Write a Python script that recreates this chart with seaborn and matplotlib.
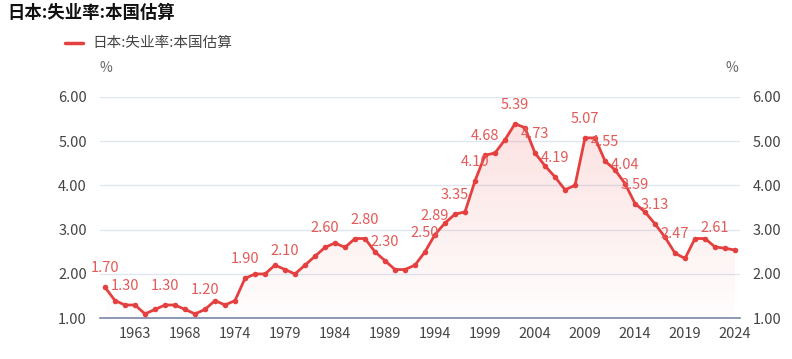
import numpy as np
import pandas as pd
import matplotlib
matplotlib.use("Agg")
import matplotlib.pyplot as plt
import seaborn as sns
from matplotlib.lines import Line2D
from matplotlib.colors import LinearSegmentedColormap

# ---------------- data ----------------
years = [str(y) for y in list(range(1960, 1971)) + list(range(1972, 2025))]
rates = [1.70, 1.40, 1.30, 1.30, 1.10, 1.20, 1.30, 1.30, 1.20, 1.10,
         1.20, 1.40, 1.30, 1.40, 1.90, 2.00, 2.00, 2.20, 2.10, 2.00,
         2.20, 2.40, 2.60, 2.70, 2.60, 2.80, 2.80, 2.50, 2.30, 2.10,
         2.10, 2.20, 2.50, 2.89, 3.15, 3.35, 3.40, 4.10, 4.68, 4.73,
         5.03, 5.39, 5.30, 4.73, 4.44, 4.19, 3.90, 4.00, 5.07, 5.07,
         4.55, 4.35, 4.04, 3.59, 3.40, 3.13, 2.83, 2.47, 2.35, 2.80,
         2.80, 2.61, 2.58, 2.54]
label_idx = [0, 2, 6, 10, 14, 18, 22, 26, 28, 32, 33, 35, 37, 38, 41, 43,
             45, 48, 50, 52, 53, 55, 57, 61]
tick_idx = list(range(3, 64, 5))
title = "日本:失业率:本国估算"
series_name = "日本:失业率:本国估算"
yticks = [1.0, 2.0, 3.0, 4.0, 5.0, 6.0]
unit = "%"

RED = "#e4403f"
LBL = "#e35a58"
TXT = "#444444"

sns.set_theme(style="white")
plt.rcParams['font.family'] = ['Noto Sans CJK SC', 'DejaVu Sans']

W, H = 792, 359
fig = plt.figure(figsize=(W / 100, H / 100), dpi=100)
fig.patch.set_facecolor("white")
ax = fig.add_axes([100 / W, 40.7 / H, 640 / W, 221.6 / H])

df = pd.DataFrame({"idx": np.arange(len(years)), "year": years, "rate": rates})

# gradient area
poly = ax.fill_between(df["idx"], df["rate"], 1.0, color="none", lw=0)
cmap = LinearSegmentedColormap.from_list(
    "g", [(0.93, 0.3, 0.3, 0.01), (0.93, 0.3, 0.3, 0.17)])
grad = np.linspace(0, 1, 256).reshape(-1, 1)
im = ax.imshow(grad, extent=[0, len(years) - 1, 1.0, max(rates)],
               aspect="auto", cmap=cmap, origin="lower", zorder=1,
               interpolation="bilinear")
im.set_clip_path(poly.get_paths()[0], transform=ax.transData)

sns.lineplot(data=df, x="idx", y="rate", ax=ax, color=RED, lw=2,
             marker="o", markersize=4, markeredgewidth=0, zorder=5,
             legend=False)

for i in label_idx:
    ax.annotate(f"{rates[i]:.2f}", (i, rates[i]), xytext=(0, 19),
                textcoords="offset pixels", ha="center", va="center",
                color=LBL, fontsize=10.5, zorder=6, annotation_clip=False)

ax.set_xlim(-0.5, len(years) - 0.5)
ax.set_ylim(1, 6)
ax.set_yticks(yticks)
ax.set_yticklabels([f"{v:.2f}" for v in yticks])
ax.set_xticks(tick_idx)
ax.set_xticklabels([years[i] for i in tick_idx])
ax.set_xlabel("")
ax.set_ylabel("")
ax.yaxis.grid(True, color="#E0E6F1", lw=1)
ax.xaxis.grid(False)
for s in ["left", "right", "top"]:
    ax.spines[s].set_visible(False)
ax.spines["bottom"].set_color("#7b86a6")
ax.spines["bottom"].set_linewidth(1.2)
ax.tick_params(axis="y", length=0, pad=9.5, labelsize=10.5, labelcolor=TXT)
ax.tick_params(axis="x", length=0, pad=6, labelsize=10.5, labelcolor=TXT)
ax.set_facecolor("white")

ax2 = ax.twinx()
ax2.set_ylim(1, 6)
ax2.set_yticks(yticks)
ax2.set_yticklabels([f"{v:.2f}" for v in yticks])
ax2.grid(False)
for s in ax2.spines.values():
    s.set_visible(False)
ax2.tick_params(axis="y", length=0, pad=9, labelsize=10.5, labelcolor=TXT)

# title, legend, units
fig.text(7 / W, 1 - 13 / H, title, fontsize=12.5, fontweight="bold",
         color="#111111", ha="left", va="center")
fig.add_artist(Line2D([65 / W, 83 / W], [1 - 43 / H] * 2, color=RED, lw=2.5))
fig.text(92 / W, 1 - 43 / H, series_name, fontsize=10.5, color=TXT,
         ha="left", va="center")
fig.text(100 / W, 1 - 68 / H, unit, fontsize=10, color="#666666",
         ha="left", va="center")
fig.text(738 / W, 1 - 68 / H, unit, fontsize=10, color="#666666",
         ha="right", va="center")

fig.savefig("out.png", dpi=100)
